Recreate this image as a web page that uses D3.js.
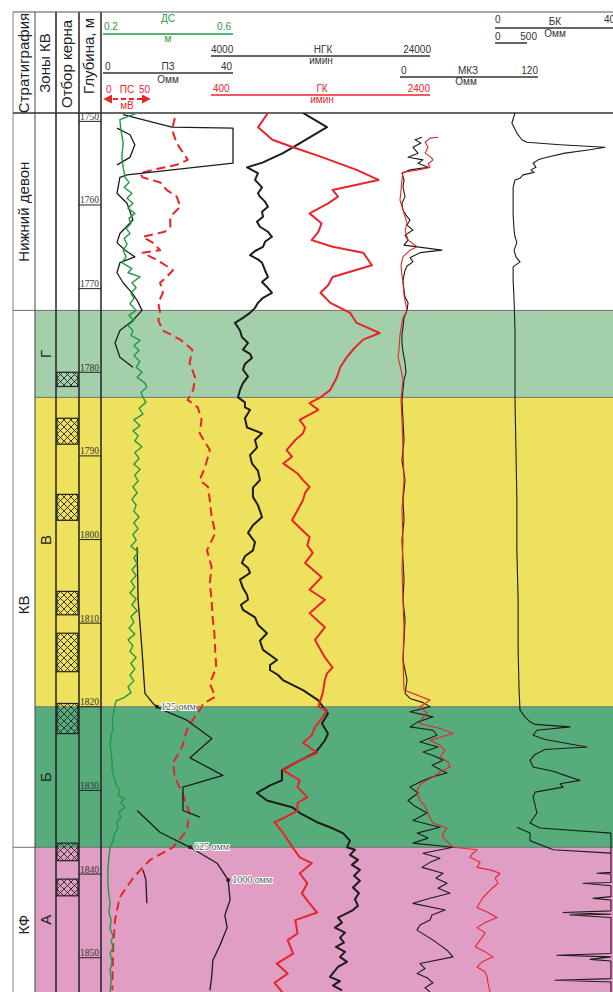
<!DOCTYPE html>
<html>
<head>
<meta charset="utf-8">
<script src="https://cdn.jsdelivr.net/npm/d3@7"></script>
<style>
  body { margin: 0; background: #fff; }
  svg { display: block; font-family: "Liberation Sans", Arial, sans-serif; }
</style>
</head>
<body>
<script>
var svgWidth = 613;
var svgHeight = 992;

// stratigraphy and KV zones (depth, m)
var stratNames = ["Нижний девон", "КВ", "КФ"];
var stratTop = [1749.0, 1772.6, 1836.8];
var stratBase = [1772.6, 1836.8, 1854.1];

var zoneNames = ["Г", "В", "Б", "А"];
var zoneTop = [1772.6, 1783.0, 1820.0, 1836.8];
var zoneBase = [1783.0, 1820.0, 1836.8, 1854.1];
var zoneColors = ["#a3d0ab", "#eee15d", "#56ad7b", "#e09ec4"];

// core intervals
var coreTop = [1780.0, 1785.5, 1794.6, 1806.2, 1811.2, 1819.6, 1836.3, 1840.6];
var coreBase = [1781.7, 1788.6, 1797.7, 1809.0, 1815.8, 1823.2, 1838.4, 1842.6];

var depthTicks = [1750, 1760, 1770, 1780, 1790, 1800, 1810, 1820, 1830, 1840, 1850];

// curves: [depth, value]
var dsData = [[1749.0,0.305],[1749.8,0.252],[1751.0,0.255],[1752.6,0.262],[1754.3,0.258],[1755.5,0.262],[1756.7,0.268],[1757.3,0.280],[1757.9,0.265],[1758.6,0.289],[1759.2,0.274],[1759.8,0.292],[1760.4,0.277],[1761.0,0.298],[1761.6,0.280],[1762.2,0.286],[1762.8,0.271],[1763.4,0.283],[1764.0,0.265],[1764.7,0.274],[1765.4,0.262],[1766.2,0.271],[1766.9,0.258],[1767.6,0.289],[1768.1,0.277],[1768.6,0.314],[1769.3,0.289],[1769.9,0.302],[1770.5,0.286],[1771.2,0.295],[1771.8,0.283],[1772.6,0.302],[1773.2,0.280],[1773.8,0.295],[1774.4,0.277],[1775.0,0.292],[1775.6,0.286],[1776.2,0.314],[1776.8,0.295],[1777.4,0.311],[1778.0,0.295],[1778.7,0.314],[1779.4,0.302],[1780.0,0.320],[1780.6,0.305],[1781.3,0.329],[1781.8,0.335],[1782.4,0.317],[1783.0,0.323],[1783.6,0.332],[1784.3,0.311],[1785.0,0.323],[1785.7,0.295],[1786.4,0.314],[1787.0,0.292],[1787.6,0.308],[1788.2,0.298],[1788.9,0.320],[1789.6,0.298],[1790.3,0.311],[1791.0,0.295],[1791.6,0.314],[1792.3,0.298],[1793.0,0.308],[1793.7,0.292],[1794.4,0.305],[1795.2,0.289],[1795.9,0.302],[1796.6,0.295],[1797.3,0.311],[1798.0,0.295],[1798.7,0.308],[1799.4,0.292],[1800.1,0.302],[1800.8,0.286],[1801.5,0.308],[1802.2,0.295],[1802.9,0.305],[1803.6,0.289],[1804.3,0.302],[1805.0,0.286],[1805.7,0.298],[1806.4,0.283],[1807.1,0.302],[1807.8,0.289],[1808.5,0.305],[1809.2,0.286],[1809.9,0.295],[1810.6,0.280],[1811.3,0.298],[1812.0,0.277],[1812.7,0.292],[1813.4,0.283],[1814.1,0.302],[1814.8,0.286],[1815.5,0.298],[1816.2,0.283],[1816.9,0.295],[1817.6,0.277],[1818.3,0.286],[1818.9,0.265],[1819.3,0.240],[1819.8,0.237],[1820.6,0.234],[1821.5,0.228],[1822.5,0.231],[1823.5,0.225],[1824.5,0.222],[1825.5,0.225],[1826.5,0.228],[1827.5,0.228],[1828.5,0.234],[1829.3,0.240],[1830.0,0.252],[1830.6,0.246],[1831.0,0.265],[1831.5,0.255],[1832.0,0.268],[1832.6,0.249],[1833.2,0.255],[1833.8,0.243],[1834.5,0.246],[1835.3,0.234],[1836.0,0.231],[1836.8,0.222],[1838.0,0.218],[1839.5,0.215],[1841.0,0.215],[1842.5,0.218],[1843.5,0.222],[1844.5,0.218],[1845.5,0.225],[1846.5,0.222],[1847.5,0.231],[1848.0,0.225],[1848.7,0.231],[1849.5,0.222],[1850.5,0.228],[1851.5,0.222],[1852.5,0.225],[1854.1,0.222]];

var psData = [[1749.6,77],[1751.0,74],[1752.6,79],[1754.6,91],[1755.2,79],[1755.8,53],[1756.2,39],[1756.7,42],[1757.3,61],[1758.2,68],[1759.0,79],[1760.2,83],[1761.4,72],[1762.6,72],[1763.2,66],[1763.8,42],[1764.5,53],[1765.4,61],[1765.7,42],[1766.6,58],[1767.8,75],[1768.6,68],[1769.3,61],[1770.5,64],[1771.7,59],[1772.9,61],[1773.8,59],[1775.0,64],[1776.1,83],[1777.3,96],[1778.9,93],[1780.6,99],[1782.1,97],[1783.3,91],[1784.2,102],[1785.7,106],[1787.3,104],[1789.3,115],[1791.3,110],[1792.9,104],[1793.7,113],[1795.3,115],[1797.3,117],[1799.2,121],[1801.3,112],[1803.3,117],[1805.2,115],[1807.2,117],[1809.3,118],[1811.2,120],[1813.6,121],[1815.3,122],[1817.2,115],[1818.8,121],[1819.6,108],[1820.4,104],[1822.4,91],[1824.8,85],[1826.7,75],[1828.4,77],[1830.3,85],[1832.7,93],[1834.8,90],[1836.8,75],[1838.3,50],[1840.4,32],[1842.8,17],[1845.5,12],[1848.7,10],[1853.9,9]];

var pzSegments = [
  [[1749.2,6.2],[1750.7,21.2],[1750.8,40],[1755.0,40],[1756.4,7.4],[1756.7,5.2],[1758.6,4.3],[1759.8,7.4],[1761.8,9.2],[1763.4,5.2],[1764.5,4.3],[1765.4,6.8],[1766.2,9.8],[1766.9,5.2],[1768.1,4.3],[1769.3,6.2],[1770.5,8.9],[1771.4,10.5],[1772.6,12.0],[1773.8,9.2],[1775.0,5.2],[1776.5,3.7],[1778.2,5.2],[1779.4,9.2]],
  [[1750.8,4.3],[1751.6,8.3],[1752.8,9.8],[1754.3,8.3],[1755.2,4.3]],
  [[1800.9,10.5],[1807.2,10.8],[1813.2,12.0],[1818.4,12.9],[1819.6,15.4],[1820.0,16.6],[1820.4,18.5],[1821.6,25.8],[1823.8,33.5],[1826.1,26.8],[1828.2,36.9],[1829.6,24.6],[1832.4,24.6],[1833.2,29.8]],
  [[1832.4,10.5],[1835.0,17.5],[1836.8,26.8],[1838.7,35.1],[1840.7,38.5],[1843.1,39.1],[1844.9,37.5],[1846.4,38.2],[1848.5,36.0],[1850.3,33.8],[1852.1,33.5],[1853.9,32.9]],
  [[1839.5,12.3],[1840.7,13.2],[1843.5,13.5]]
];
var pzMarks = [[1820.0,16.6,"125 омм"],[1836.8,26.8,"625 омм"],[1840.7,38.5,"1000 омм"]];

var ngkData = [[1749.0,12400],[1750.7,14590],[1752.6,12130],[1753.8,10570],[1754.9,8750],[1755.5,7290],[1756.2,8290],[1757.0,8020],[1757.9,8660],[1758.6,8290],[1759.0,8470],[1759.6,8930],[1760.2,9200],[1760.8,8660],[1761.4,8750],[1762.0,8200],[1762.6,8470],[1763.2,9200],[1763.8,9570],[1764.4,8930],[1765.0,8750],[1765.5,8020],[1766.0,7560],[1766.5,8290],[1766.9,8660],[1767.8,8930],[1768.6,9200],[1769.2,8660],[1769.8,9110],[1770.5,9570],[1771.1,8750],[1771.7,8290],[1772.3,8020],[1772.9,7560],[1773.5,6920],[1774.1,6190],[1775.0,6650],[1775.8,6830],[1776.5,7380],[1777.3,6920],[1777.8,7560],[1778.3,7740],[1779.0,7100],[1779.7,6920],[1780.5,7380],[1781.3,6920],[1782.1,6650],[1783.0,6470],[1783.6,7100],[1784.2,7100],[1784.5,7560],[1785.5,7100],[1786.6,7290],[1787.3,8660],[1788.1,8020],[1789.0,8200],[1789.9,7560],[1790.9,7740],[1791.8,8290],[1792.9,8470],[1793.8,7830],[1794.9,7830],[1795.9,8290],[1797.3,8660],[1798.3,7830],[1799.2,7380],[1800.3,8020],[1801.3,7830],[1802.0,7100],[1802.8,6830],[1803.4,7380],[1804.0,7560],[1804.8,6650],[1805.8,6920],[1806.6,7290],[1807.2,7380],[1807.8,6740],[1808.4,6920],[1809.3,8020],[1810.2,8290],[1811.2,9110],[1812.1,8470],[1813.2,8750],[1814.4,10030],[1815.0,9390],[1815.6,9390],[1816.2,10120],[1816.8,10570],[1818.0,12400],[1819.2,13770],[1820.8,14680],[1822.0,14130],[1823.2,14680],[1824.0,14410],[1824.8,13950],[1825.5,13500],[1826.4,12130],[1827.6,10480],[1828.8,10480],[1829.4,9390],[1830.3,8200],[1831.2,9110],[1832.0,11400],[1832.7,12130],[1833.8,13680],[1834.4,14870],[1835.1,16050],[1836.0,16690],[1836.8,16420],[1837.1,17150],[1837.7,16690],[1838.3,17420],[1838.9,16870],[1839.5,17600],[1840.2,17060],[1840.8,17600],[1841.6,16970],[1842.3,17510],[1843.0,17150],[1843.8,17420],[1844.3,16970],[1844.8,16240],[1845.2,15600],[1845.8,15960],[1846.4,15320],[1847.0,16240],[1847.6,15780],[1848.2,16140],[1848.7,15410],[1849.3,16240],[1849.9,15780],[1850.5,16420],[1851.1,15600],[1851.7,15230],[1852.3,14870],[1852.8,15780],[1853.3,15140],[1853.9,15960]];

var gkData = [[1749.0,920],[1750.7,830],[1752.2,960],[1753.1,1150],[1754.3,1420],[1755.8,1730],[1757.0,1930],[1758.2,1510],[1759.0,1560],[1759.8,1470],[1761.0,1300],[1762.2,1410],[1763.2,1380],[1764.2,1320],[1765.0,1510],[1765.7,1790],[1767.2,1870],[1768.6,1510],[1769.6,1470],[1770.5,1400],[1771.7,1490],[1772.9,1670],[1774.1,1730],[1775.3,1940],[1776.1,1790],[1777.1,1710],[1778.2,1640],[1779.4,1580],[1780.6,1550],[1782.1,1490],[1783.0,1400],[1783.7,1300],[1784.5,1380],[1785.7,1210],[1786.6,1260],[1787.3,1240],[1788.1,1170],[1789.3,1090],[1790.1,1140],[1790.9,1060],[1792.1,1190],[1792.9,1240],[1793.7,1300],[1794.4,1260],[1795.3,1240],[1796.5,1190],[1797.7,1140],[1798.6,1210],[1799.7,1300],[1800.7,1280],[1801.6,1330],[1802.8,1260],[1804.5,1410],[1806.0,1300],[1807.2,1440],[1808.8,1300],[1810.5,1440],[1812.0,1350],[1814.1,1440],[1815.3,1510],[1816.0,1460],[1816.8,1440],[1818.4,1420],[1819.2,1400],[1820.0,1380],[1820.4,1460],[1821.4,1410],[1822.4,1350],[1823.4,1320],[1824.3,1240],[1825.5,1370],[1826.4,1210],[1827.6,1060],[1828.8,1210],[1829.6,1190],[1830.8,1280],[1831.5,1190],[1832.4,1190],[1833.2,1080],[1833.8,980],[1835.1,1060],[1836.3,1120],[1836.9,1150],[1838.0,1210],[1838.7,1320],[1839.9,1210],[1841.1,1280],[1842.3,1230],[1843.5,1300],[1844.6,1370],[1845.5,1170],[1847.1,1190],[1847.9,1100],[1849.5,1150],[1850.7,1000],[1851.9,1100],[1853.0,980],[1854.1,1050]];

var mkzBlack = [[1751.9,19.1],[1752.2,13.1],[1752.6,18.3],[1753.1,11.3],[1753.8,15.7],[1754.3,7.0],[1754.6,20.0],[1755.0,15.7],[1755.5,24.4],[1755.8,8.7],[1756.2,1.7],[1757.0,3.5],[1757.9,2.6],[1759.0,4.4],[1759.8,1.7],[1760.6,2.6],[1761.2,5.2],[1761.8,8.7],[1762.4,6.1],[1763.0,11.3],[1763.6,4.4],[1764.2,7.0],[1764.8,3.5],[1765.4,36.5],[1765.7,17.4],[1766.3,8.7],[1766.8,11.3],[1767.3,6.1],[1767.8,4.4],[1769.0,2.6],[1770.2,3.5],[1771.0,4.4],[1771.7,7.0],[1772.6,6.1],[1773.5,3.5],[1774.6,2.6],[1775.5,1.7],[1776.5,1.7],[1777.6,2.6],[1778.9,4.4],[1780.0,5.2],[1780.9,3.5],[1782.1,2.6],[1783.3,1.7],[1785.7,2.6],[1788.1,3.5],[1790.5,1.7],[1792.9,4.4],[1795.3,2.6],[1797.7,3.5],[1800.1,1.7],[1802.5,2.6],[1804.9,3.5],[1807.2,2.6],[1809.6,4.4],[1812.0,3.5],[1814.4,2.6],[1816.8,6.1],[1818.4,4.4],[1819.0,8.7],[1819.5,20.0],[1820.0,26.1],[1820.6,8.7],[1821.2,28.7],[1821.8,15.7],[1822.4,8.7],[1822.8,28.7],[1823.4,32.2],[1824.2,17.4],[1824.8,33.1],[1825.4,20.0],[1825.9,30.5],[1826.4,37.4],[1827.0,27.8],[1827.5,34.8],[1827.9,40.9],[1828.4,27.8],[1828.8,20.0],[1829.6,8.7],[1830.3,15.7],[1831.2,7.0],[1831.9,13.1],[1832.7,23.5],[1833.6,11.3],[1834.4,34.8],[1835.1,14.8],[1835.7,24.4],[1836.3,11.3],[1836.8,46.1],[1837.5,20.0],[1838.1,34.8],[1838.6,26.1],[1839.2,19.1],[1839.9,37.4],[1840.5,31.3],[1841.1,40.9],[1841.7,33.1],[1842.3,43.5],[1842.9,26.1],[1843.5,11.3],[1844.3,39.2],[1844.9,27.8],[1845.5,26.1],[1846.1,17.4],[1846.7,14.8],[1847.3,21.8],[1847.9,28.7],[1848.5,34.8],[1849.1,40.9],[1849.9,46.1],[1850.7,17.4],[1851.3,21.8],[1851.9,14.8],[1852.4,23.5],[1853.0,28.7],[1853.6,21.8],[1854.1,26.1]];

var mkzRed = [[1751.9,33.1],[1752.0,26.1],[1752.5,21.8],[1753.1,24.4],[1753.8,21.8],[1754.3,27.0],[1754.6,28.7],[1755.1,24.4],[1755.5,26.1],[1755.8,15.7],[1756.1,2.6],[1757.0,1.7],[1758.2,0.9],[1759.4,0],[1760.6,2.6],[1761.4,4.4],[1762.2,6.1],[1763.0,4.4],[1764.2,7.0],[1765.0,14.8],[1765.4,8.7],[1766.2,2.6],[1767.2,0.9],[1768.4,1.7],[1769.3,2.6],[1770.8,3.5],[1772.6,6.1],[1773.5,2.6],[1774.1,1.7],[1775.5,0],[1777.3,-0.9],[1778.2,-1.7],[1779.7,0.9],[1780.9,2.6],[1782.1,1.7],[1783.3,0.9],[1785.7,1.7],[1789.3,2.6],[1792.9,3.5],[1796.5,1.7],[1800.1,2.6],[1803.7,1.7],[1807.2,2.6],[1810.8,3.5],[1814.4,2.6],[1818.0,3.5],[1819.2,26.1],[1820.0,17.4],[1820.8,23.5],[1821.4,19.1],[1822.0,17.4],[1822.6,34.8],[1823.2,46.1],[1824.0,26.1],[1824.6,34.8],[1825.2,39.2],[1826.0,34.8],[1826.6,41.8],[1827.2,43.5],[1827.8,34.8],[1828.4,28.7],[1829.1,19.1],[1829.7,15.7],[1830.3,14.8],[1831.2,17.4],[1831.9,21.8],[1832.7,24.4],[1833.3,26.1],[1833.9,28.7],[1834.5,40.9],[1835.1,37.4],[1835.6,37.4],[1836.2,41.8],[1836.8,46.1],[1837.1,67.0],[1837.6,62.6],[1838.0,60.9],[1838.6,69.6],[1839.2,67.0],[1839.5,78.3],[1839.9,87.0],[1840.5,82.7],[1841.1,85.3],[1841.6,80.9],[1842.2,76.6],[1842.8,72.2],[1843.4,69.6],[1844.0,67.0],[1844.6,76.6],[1845.2,84.4],[1845.8,74.0],[1846.4,67.0],[1847.0,74.0],[1847.6,71.3],[1848.2,67.9],[1848.7,65.3],[1849.3,74.0],[1849.9,80.9],[1850.5,71.3],[1851.1,67.0],[1851.7,74.0],[1852.3,75.7],[1853.1,76.6],[1854.1,78.3]];

var bkData = [[1749.0,6.4],[1750.2,5.4],[1751.4,7.0],[1752.2,8.6],[1752.5,10.2],[1752.8,20.8],[1753.1,35.2],[1753.4,30.4],[1753.8,22.4],[1754.3,16.6],[1754.6,13.8],[1755.0,12.2],[1755.5,13.1],[1755.8,11.5],[1756.1,12.5],[1756.4,9.0],[1756.8,8.0],[1757.0,6.4],[1757.9,5.8],[1759.4,5.8],[1761.2,5.8],[1763.0,6.1],[1763.8,6.4],[1764.5,7.0],[1765.4,6.1],[1766.2,6.7],[1766.8,8.0],[1767.4,5.8],[1769.0,5.8],[1771.4,6.1],[1775.0,6.4],[1779.7,6.4],[1783.3,6.4],[1789.3,6.7],[1795.3,7.0],[1801.3,7.0],[1807.2,7.4],[1813.2,7.4],[1818.0,7.7],[1820.4,8.0],[1821.2,9.6],[1821.8,11.2],[1822.1,12.8],[1822.4,24.0],[1822.8,13.4],[1823.4,12.2],[1823.9,16.0],[1824.8,29.4],[1825.1,16.0],[1825.7,12.8],[1826.4,11.2],[1827.2,12.2],[1827.7,18.6],[1828.2,22.4],[1828.8,27.2],[1829.2,20.8],[1829.6,21.8],[1830.2,12.8],[1830.8,12.2],[1831.7,12.8],[1832.7,13.4],[1833.9,11.2],[1834.5,14.4],[1835.1,37.1],[1839.8,37.1],[1839.9,32.6],[1840.0,37.1],[1841.0,37.1],[1841.1,28.2],[1841.4,37.1],[1842.7,37.1],[1842.9,31.4],[1843.1,37.1],[1844.4,37.1],[1844.6,21.8],[1844.8,37.1],[1844.9,24.0],[1845.2,37.1],[1849.5,37.1],[1849.7,19.8],[1849.9,37.1],[1850.2,30.4],[1850.4,37.1],[1852.5,37.1],[1852.7,19.2],[1852.9,37.1],[1854.1,37.1]];
var bkPiece = [[1834.4,7.0],[1835.1,11.2],[1836.0,11.2],[1837.1,18.6],[1837.5,37.1]];

var svg = d3.select("body")
  .append("svg")
  .attr("width", svgWidth)
  .attr("height", svgHeight);

svg.append("rect").attr("width", svgWidth).attr("height", svgHeight).attr("fill", "#fff");

var yScale = d3.scaleLinear().domain([1749.0, 1854.1]).range([113, 992]);

var xDs = d3.scaleLinear().domain([0.2, 0.6]).range([103, 233]);
var xPs = d3.scaleLinear().domain([0, 50]).range([104, 150]);
var xPz = d3.scaleLinear().domain([0, 40]).range([103, 233]);
var xNgk = d3.scaleLinear().domain([4000, 24000]).range([211, 430]);
var xGk = d3.scaleLinear().domain([400, 2400]).range([211, 430]);
var xMkz = d3.scaleLinear().domain([0, 120]).range([400, 538]);
var xBk = d3.scaleLinear().domain([0, 40]).range([495, 620]);

// zone fills
zoneNames.forEach(function(z, i) {
  svg.append("rect")
    .attr("x", 35).attr("y", yScale(zoneTop[i]))
    .attr("width", svgWidth - 35)
    .attr("height", yScale(zoneBase[i]) - yScale(zoneTop[i]))
    .attr("fill", zoneColors[i]);
  var mid = (yScale(zoneTop[i]) + yScale(zoneBase[i])) / 2;
  if (z == "В") mid -= 12;
  svg.append("text")
    .attr("transform", `translate(51, ${mid}) rotate(-90)`)
    .attr("text-anchor", "middle")
    .style("font-size", "15px")
    .attr("fill", "#222")
    .text(z);
});

// zone boundaries
zoneTop.forEach(function(d) {
  svg.append("line")
    .attr("x1", 35).attr("x2", svgWidth)
    .attr("y1", yScale(d)).attr("y2", yScale(d))
    .attr("stroke", "#6f6f6f").attr("stroke-width", 1);
});

stratNames.forEach(function(s, i) {
  if (i > 0) {
    svg.append("line")
      .attr("x1", 13).attr("x2", 35)
      .attr("y1", yScale(stratTop[i])).attr("y2", yScale(stratTop[i]))
      .attr("stroke", "#6f6f6f");
  }
  var mid = (yScale(stratTop[i]) + yScale(stratBase[i])) / 2;
  if (s == "КВ") mid += 26;
  if (s == "КФ") mid += 5;
  svg.append("text")
    .attr("transform", `translate(29, ${mid}) rotate(-90)`)
    .attr("text-anchor", "middle")
    .style("font-size", "15px")
    .attr("fill", "#222")
    .text(s);
});

// core hatching
var defs = svg.append("defs");
var pat = defs.append("pattern")
  .attr("id", "hatch")
  .attr("patternUnits", "userSpaceOnUse")
  .attr("x", 57).attr("y", 0)
  .attr("width", 7).attr("height", 7);
pat.append("path").attr("d", "M0,0L7,7M7,0L0,7").attr("stroke", "#222").attr("stroke-width", 0.9);

coreTop.forEach(function(t, i) {
  svg.append("rect")
    .attr("x", 57).attr("y", yScale(t))
    .attr("width", 21).attr("height", yScale(coreBase[i]) - yScale(t))
    .attr("fill", "url(#hatch)")
    .attr("stroke", "#222").attr("stroke-width", 1.2);
});

// depth scale
depthTicks.forEach(function(d) {
  svg.append("line")
    .attr("x1", 79).attr("x2", 101)
    .attr("y1", yScale(d)).attr("y2", yScale(d))
    .attr("stroke", "#222").attr("stroke-width", 1);
  svg.append("text")
    .attr("x", 99).attr("y", yScale(d) - 1.5)
    .attr("text-anchor", "end")
    .style("font-family", "'Liberation Serif', 'DejaVu Serif', serif")
    .style("font-size", "9.5px")
    .attr("fill", "#333")
    .text(d);
});

// column lines and frame
svg.append("line").attr("x1", 13).attr("x2", 13).attr("y1", 12).attr("y2", svgHeight).attr("stroke", "#888");
[35, 56, 79, 101].forEach(function(x, i) {
  svg.append("line").attr("x1", x).attr("x2", x).attr("y1", 12).attr("y2", svgHeight)
    .attr("stroke", i == 0 ? "#444" : "#222").attr("stroke-width", i == 0 ? 1 : 1.5);
});
svg.append("line").attr("x1", 13).attr("x2", svgWidth).attr("y1", 12).attr("y2", 12).attr("stroke", "#555").attr("stroke-width", 1.2);
svg.append("line").attr("x1", 13).attr("x2", svgWidth).attr("y1", 113).attr("y2", 113).attr("stroke", "#333").attr("stroke-width", 1.5);

// header column titles
var colTitles = [["Стратиграфия", 29, 63], ["Зоны КВ", 50, 63], ["Отбор керна", 72, 64], ["Глубина, м", 94, 56]];
colTitles.forEach(function(c) {
  svg.append("text")
    .attr("transform", `translate(${c[1]}, ${c[2]}) rotate(-90)`)
    .attr("text-anchor", "middle")
    .style("font-size", "15px")
    .attr("fill", "#222")
    .text(c[0]);
});

// curve header scales
var green = "#1f9a45", red = "#e8242b", dark = "#333";
function hLine(x1, x2, y, color, w) {
  svg.append("line").attr("x1", x1).attr("x2", x2).attr("y1", y).attr("y2", y)
    .attr("stroke", color).attr("stroke-width", w || 1.5);
}
function hText(x, y, t, color, anchor) {
  svg.append("text").attr("x", x).attr("y", y)
    .attr("text-anchor", anchor || "middle")
    .style("font-size", "10px")
    .attr("fill", color)
    .text(t);
}
hLine(xDs(0.2), xDs(0.6), 34, green);
hText(104, 30, "0.2", green, "start"); hText(168, 22, "ДС", green); hText(231, 30, "0.6", green, "end"); hText(168, 42, "м", green);
hLine(xNgk(4000), xNgk(24000), 56, dark);
hText(211, 53, "4000", dark, "start"); hText(323, 53, "НГК", dark); hText(431, 53, "24000", dark, "end"); hText(321, 64, "имин", dark);
hLine(xPz(0), xPz(40), 73, dark);
hText(105, 70, "0", dark, "start"); hText(168, 70, "ПЗ", dark); hText(232, 70, "40", dark, "end"); hText(168, 83, "Омм", dark);
hLine(xGk(400), xGk(2400), 95, red);
hText(213, 92, "400", red, "start"); hText(322, 92, "ГК", red); hText(430, 92, "2400", red, "end"); hText(322, 103, "имин", red);
hLine(xMkz(0), xMkz(120), 77, dark);
hText(401, 74, "0", dark, "start"); hText(468, 74, "МКЗ", dark); hText(538, 74, "120", dark, "end"); hText(466, 85, "Омм", dark);
hLine(xBk(0), svgWidth, 28, dark);
hText(495, 23, "0", dark, "start"); hText(555, 25, "БК", dark); hText(604, 23, "40", dark, "start"); hText(555, 37, "Омм", dark);
hLine(495, 527, 43, dark);
hText(495, 40, "0", dark, "start"); hText(537, 40, "500", dark, "end");
// ПС scale arrow
hText(106, 93, "0", red, "start"); hText(127, 93, "ПС", red); hText(150, 93, "50", red, "end"); hText(127, 109, "мВ", red);
defs.append("marker").attr("id", "arrR").attr("viewBox", "0 0 10 10").attr("refX", 8).attr("refY", 5)
  .attr("markerWidth", 5).attr("markerHeight", 5).attr("orient", "auto-start-reverse")
  .append("path").attr("d", "M0,0L10,5L0,10Z").attr("fill", red);
svg.append("line").attr("x1", xPs(0) + 1).attr("x2", xPs(50) - 1).attr("y1", 99).attr("y2", 99)
  .attr("stroke", red).attr("stroke-width", 1.8).attr("stroke-dasharray", "5,3")
  .attr("marker-end", "url(#arrR)").attr("marker-start", "url(#arrR)");

// curves
var clip = defs.append("clipPath").attr("id", "plot");
clip.append("rect").attr("x", 102).attr("y", 113).attr("width", svgWidth - 102).attr("height", svgHeight - 113);
var plot = svg.append("g").attr("clip-path", "url(#plot)");

function drawCurve(data, xs, color, width, dash) {
  var line = d3.line().x(d => xs(d[1])).y(d => yScale(d[0]));
  plot.append("path")
    .datum(data)
    .attr("d", line)
    .attr("fill", "none")
    .attr("stroke", color)
    .attr("stroke-width", width)
    .attr("stroke-linejoin", "round")
    .attr("stroke-dasharray", dash || null);
}

drawCurve(ngkData, xNgk, "#1c1c1c", 2);
drawCurve(gkData, xGk, red, 2);
drawCurve(mkzBlack, xMkz, "#1c1c1c", 1.1);
drawCurve(mkzRed, xMkz, red, 1.1);
drawCurve(bkData, xBk, "#1c1c1c", 1.1);
drawCurve(bkPiece, xBk, "#1c1c1c", 1.1);
drawCurve(psData, xPs, red, 2, "9,5");
pzSegments.forEach(function(seg) { drawCurve(seg, xPz, "#1c1c1c", 1.3); });
drawCurve(dsData, xDs, green, 1.4);

pzMarks.forEach(function(m) {
  plot.append("circle").attr("cx", xPz(m[1])).attr("cy", yScale(m[0])).attr("r", 2).attr("fill", "#222");
  plot.append("text")
    .attr("x", xPz(m[1]) + 4).attr("y", yScale(m[0]) + 3)
    .style("font-family", "'Liberation Serif', 'DejaVu Serif', serif")
    .style("font-size", "10px")
    .attr("fill", "#555")
    .attr("stroke", "#fff").attr("stroke-width", 2).attr("paint-order", "stroke")
    .text(m[2]);
});
</script>
</body>
</html>
